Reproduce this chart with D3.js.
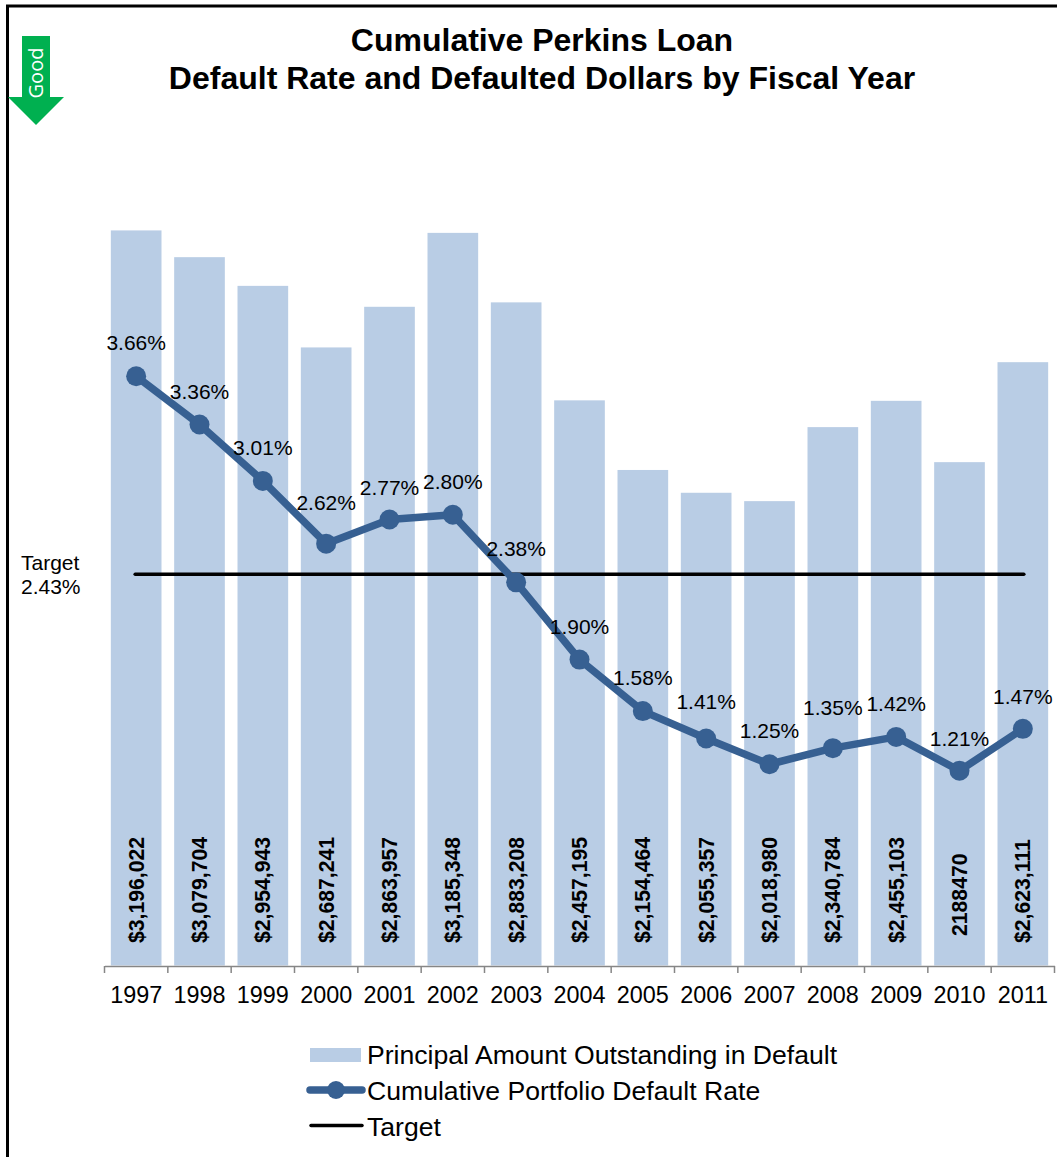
<!DOCTYPE html>
<html><head><meta charset="utf-8">
<script src="https://cdn.jsdelivr.net/npm/d3@7"></script>
<style>html,body{margin:0;padding:0;background:#fff}svg{display:block}text{font-family:"Liberation Sans",Arial,sans-serif;fill:#000}</style>
</head><body><div id="c"></div>
<script>
const years=["1997","1998","1999","2000","2001","2002","2003","2004","2005","2006","2007","2008","2009","2010","2011"];
const principal=[3196022,3079704,2954943,2687241,2863957,3185348,2883208,2457195,2154464,2055357,2018980,2340784,2455103,2188470,2623111];
const principalLabels=["$3,196,022","$3,079,704","$2,954,943","$2,687,241","$2,863,957","$3,185,348","$2,883,208","$2,457,195","$2,154,464","$2,055,357","$2,018,980","$2,340,784","$2,455,103","2188470","$2,623,111"];
const rate=[3.66,3.36,3.01,2.62,2.77,2.80,2.38,1.90,1.58,1.41,1.25,1.35,1.42,1.21,1.47];
const targetValue=2.43;
const titleLines=["Cumulative Perkins Loan","Default Rate and Defaulted Dollars by Fiscal Year"];
const legendNames=["Principal Amount Outstanding in Default","Cumulative Portfolio Default Rate","Target"];

const W=1057,H=1157,barFill="#b9cde5",lineCol="#376092",axisCol="#868686";
const svg=d3.select("#c").append("svg").attr("width",W).attr("height",H);
const x=d3.scaleBand().domain(years).range([104.5,1054.5]).paddingInner(.2).paddingOuter(.1);
const xo=d3.scaleBand().domain(years).range([104.5,1054.5]);
const yB=d3.scaleLinear().domain([0,3500000]).range([965.5,160.5]);
const yR=d3.scaleLinear().domain([0,5]).range([965.5,160.5]);
const cx=d=>xo(d)+xo.bandwidth()/2;

// frame
svg.append("path").attr("d",`M7.5,${H}V6H${W}`).attr("fill","none").attr("stroke","#000").attr("stroke-width",3);

// title
svg.append("g").selectAll("text").data(titleLines).join("text")
 .attr("x",542).attr("y",(d,i)=>51+i*38).attr("text-anchor","middle")
 .attr("font-size",32).attr("font-weight","bold").text(d=>d);

// good arrow
const good=svg.append("g");
good.append("path").attr("d","M22,36H50V97H64L36,125L8,97H22Z").attr("fill","#00b050");
good.append("text").attr("transform","translate(43,73) rotate(-90)").attr("text-anchor","middle")
 .style("font-family","'Open Sans',sans-serif").style("fill","#fff").attr("font-size",20).text("Good");

// bars
svg.append("g").selectAll("rect").data(years).join("rect")
 .attr("x",d=>x(d)).attr("width",x.bandwidth())
 .attr("y",(d,i)=>yB(principal[i])).attr("height",(d,i)=>yB(0)-yB(principal[i]))
 .attr("fill",barFill);

// axis
const ax=svg.append("g").attr("transform","translate(0,966)")
 .call(d3.axisBottom(xo).tickSize(0).tickPadding(20));
ax.select(".domain").attr("stroke",axisCol).attr("stroke-width",1.5);
ax.selectAll("text").attr("font-size",23.4).style("font-family","'Liberation Sans',Arial,sans-serif");
ax.append("g").selectAll("line").data(years.concat(["end"])).join("line")
 .attr("x1",(d,i)=>104.5+i*xo.step()).attr("x2",(d,i)=>104.5+i*xo.step())
 .attr("y1",0).attr("y2",7).attr("stroke",axisCol).attr("stroke-width",1.5);

// bar labels
svg.append("g").selectAll("text").data(years).join("text")
 .attr("transform",(d,i)=>`translate(${cx(d)+7.5},${principalLabels[i][0]==="$"?943:936}) rotate(-90)`)
 .attr("font-size",21.2).attr("font-weight","bold")
 .text((d,i)=>principalLabels[i]);

// target
svg.append("line").attr("x1",cx(years[0])-1).attr("x2",cx(years[14])+1)
 .attr("y1",yR(targetValue)).attr("y2",yR(targetValue)).attr("stroke","#000").attr("stroke-width",3.5).attr("stroke-linecap","round");
svg.append("text").attr("x",21).attr("y",570).attr("font-size",21).text("Target");
svg.append("text").attr("x",21).attr("y",594).attr("font-size",21).text(d3.format(".2f")(targetValue)+"%");

// line
const line=d3.line().x(d=>cx(d.y)).y(d=>yR(d.v));
const pts=years.map((y,i)=>({y,v:rate[i]}));
svg.append("path").datum(pts).attr("d",line).attr("fill","none").attr("stroke",lineCol).attr("stroke-width",7.5).attr("stroke-linejoin","round");
svg.append("g").selectAll("circle").data(pts).join("circle")
 .attr("cx",d=>cx(d.y)).attr("cy",d=>yR(d.v)).attr("r",10).attr("fill",lineCol);
const labelDy=[-26,-26,-26,-34,-25,-26,-26,-26,-26,-29,-26,-33,-26,-25,-25];
svg.append("g").selectAll("text").data(pts).join("text")
 .attr("x",d=>cx(d.y)).attr("y",(d,i)=>yR(d.v)+labelDy[i]).attr("text-anchor","middle")
 .attr("font-size",21).text(d=>d.v.toFixed(2)+"%");

// legend
const lg=svg.append("g");
lg.append("rect").attr("x",310).attr("y",1048).attr("width",51).attr("height",14).attr("fill",barFill);
lg.append("line").attr("x1",310).attr("x2",362).attr("y1",1090).attr("y2",1090).attr("stroke",lineCol).attr("stroke-width",7.5).attr("stroke-linecap","round");
lg.append("circle").attr("cx",336).attr("cy",1090).attr("r",9).attr("fill",lineCol);
lg.append("line").attr("x1",311).attr("x2",362).attr("y1",1125.5).attr("y2",1125.5).attr("stroke","#000").attr("stroke-width",3.5).attr("stroke-linecap","round");
lg.selectAll("text").data(legendNames).join("text").attr("x",367).attr("y",(d,i)=>1064+i*36)
 .attr("font-size",26.6).text(d=>d);
</script></body></html>
